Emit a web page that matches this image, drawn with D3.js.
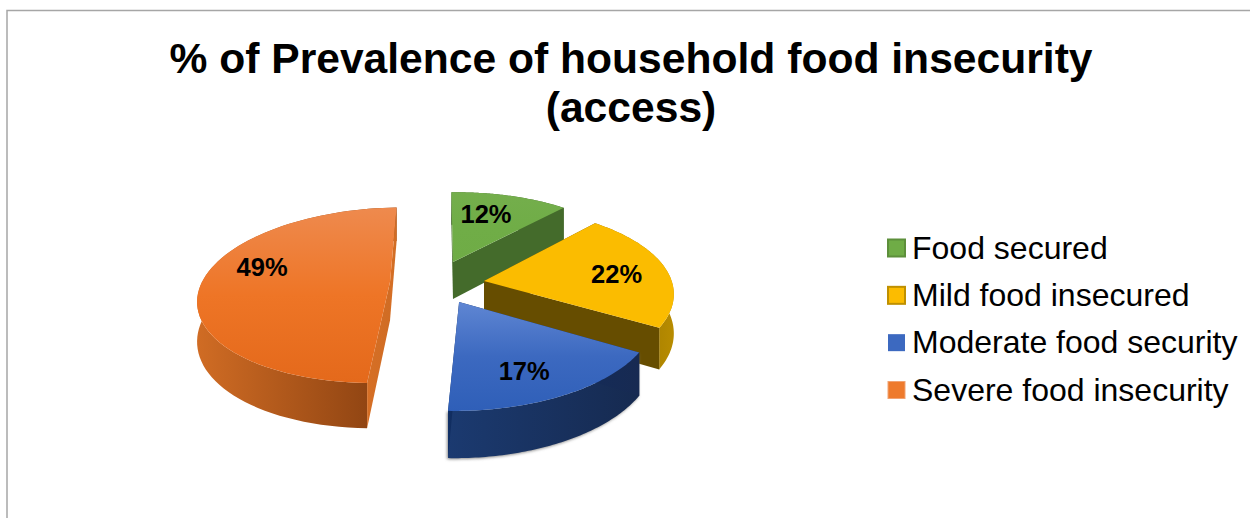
<!DOCTYPE html>
<html>
<head>
<meta charset="utf-8">
<script src="https://cdn.jsdelivr.net/npm/d3@7/dist/d3.min.js"></script>
<style>
  html, body { margin: 0; padding: 0; background: #fff; overflow: hidden; }
  svg { display: block; }
  text { font-family: "Liberation Sans", Arial, sans-serif; fill: #000; }
</style>
</head>
<body>
<svg id="chart" width="1250" height="518"></svg>
<script>
// Chart values
const categories = ["Food secured", "Mild food insecured", "Moderate food security", "Severe food insecurity"];
const shares = [12, 22, 17, 49];
const titleLines = ["% of Prevalence of household food insecurity", "(access)"];

// Slice colours: top-face gradient stops, flat cut-face stops, curved rim stops, legend swatch
const topStops = [
  ["#74ae4c", "#70ad47", "#6fac46"],
  ["#fbbc00", "#fbbc00", "#fbbc00"],
  ["#5f86d3", "#3c69c0", "#2f5fb8"],
  ["#ee8a4e", "#ee7526", "#e4691b"]
];
const wallStops = [
  ["#446b2b", "#446b2b"],
  ["#664d00", "#664d00"],
  ["#0f2f66", "#172a52"],
  ["#d66f25", "#d06c24"]
];
const rimStops = [
  ["#446b2b", "#3f6428"],
  ["#8a6800", "#b88c00"],
  ["#1b3a70", "#162a50"],
  ["#d06c24", "#873f10"]
];
const swatchFill = ["#6fac46", "#fcbc00", "#3c69c0", "#ee7a2c"];
const swatchEdge = ["#5d8f3b", "#bf9000", "#3c69c0", "#f1a373"];
const swatchEdgeWidth = [2, 2, 0, 1];

// Exploded displacement of each slice on the pie's ground plane, in radii
const explodeOffsets = [
  { u: -0.171, v: 0.242 },
  { u: 0, v: 0.012 },
  { u: -0.128, v: -0.225 },
  { u: -0.5, v: 0 }
];

// Label placement relative to each slice's apex: radius fraction and turn off the mid-angle (degrees)
const labelRadius = [0.68, 0.72, 0.74, 0.735];
const labelTurn = [-4, 2.6, 4, 14.4];

// Perspective camera for the tilted disc
const cam = { cx: 484, horizon: -286, span: 568, k: 0.151, radius: 188, thickness: 38.5 };
const firstSliceAngle = -2 * Math.PI / 180;

const depthScale = v => 1 / (1 + cam.k * v);
const project = (u, v, lift = 0) => {
  const w = depthScale(v);
  return [cam.cx + cam.radius * u * w, cam.horizon + cam.span * w + lift * w];
};

const svg = d3.select("#chart");
const defs = svg.append("defs");

function gradient(id, stops, vertical) {
  const g = defs.append("linearGradient").attr("id", id)
    .attr("x1", 0).attr("y1", 0)
    .attr("x2", vertical ? 0 : 1).attr("y2", vertical ? 1 : 0);
  stops.forEach((c, i) => g.append("stop").attr("offset", i / (stops.length - 1)).attr("stop-color", c));
}
shares.forEach((_, i) => {
  gradient(`top${i}`, topStops[i], true);
  gradient(`wall${i}`, wallStops[i], false);
  gradient(`rim${i}`, rimStops[i], false);
});
defs.append("filter").attr("id", "softShadow")
  .attr("x", "-10%").attr("y", "-10%").attr("width", "120%").attr("height", "120%")
  .append("feGaussianBlur").attr("stdDeviation", 1.6);

// Chart frame, open at the bottom and right
svg.append("path")
  .attr("d", d3.line()([[7, 518], [7, 10.5], [1250, 10.5]]))
  .attr("fill", "none").attr("stroke", "#a6a6a6").attr("stroke-width", 1.5);

// Title
svg.append("g").selectAll("text").data(titleLines).join("text")
  .attr("x", 631).attr("y", (d, i) => 73 + i * 49)
  .attr("text-anchor", "middle").attr("font-weight", "bold").attr("font-size", 42.6)
  .text(d => d);

const arcs = d3.pie().sort(null).value(d => d)
  .startAngle(firstSliceAngle).endAngle(firstSliceAngle + 2 * Math.PI)(shares);

const lineGen = d3.line();
const ground = (i, a, r = 1) => [explodeOffsets[i].u + r * Math.sin(a), explodeOffsets[i].v + r * Math.cos(a)];
const rimPoints = (i, a0, a1, lift) =>
  d3.range(0, 73).map(t => {
    const a = a0 + (a1 - a0) * t / 72;
    const [u, v] = ground(i, a);
    return project(u, v, lift);
  });

function drawSlice(g, arc, i) {
  const o = explodeOffsets[i];
  const topRim = rimPoints(i, arc.startAngle, arc.endAngle, 0);
  const lowRim = rimPoints(i, arc.startAngle, arc.endAngle, cam.thickness);
  const apexTop = project(o.u, o.v, 0);
  const apexLow = project(o.u, o.v, cam.thickness);

  // The moderate slice throws a faint shadow along its lower rim
  if (i === 2) {
    g.append("path")
      .attr("d", lineGen(lowRim.concat(topRim.slice().reverse())) + "Z")
      .attr("transform", "translate(-1,1)")
      .attr("fill", "#8a8a8a").attr("filter", "url(#softShadow)");
  }

  // Curved rim first, then the flat cut faces, then the top
  g.append("path")
    .attr("d", lineGen(topRim.concat(lowRim.slice().reverse())) + "Z")
    .attr("fill", `url(#rim${i})`);
  [0, 72].forEach(k => {
    g.append("path")
      .attr("d", lineGen([apexTop, topRim[k], lowRim[k], apexLow]) + "Z")
      .attr("fill", `url(#wall${i})`);
  });
  g.append("path")
    .attr("d", lineGen([apexTop].concat(topRim)) + "Z")
    .attr("fill", `url(#top${i})`);
}

// Painter's order, far slices first
const pie = svg.append("g");
[0, 1, 3, 2].forEach(i => drawSlice(pie.append("g"), arcs[i], i));

// Percentage labels
svg.append("g").selectAll("text").data(arcs).join("text")
  .attr("transform", (d, i) => {
    const mid = (d.startAngle + d.endAngle) / 2 + labelTurn[i] * Math.PI / 180;
    const [u, v] = ground(i, mid, labelRadius[i]);
    return `translate(${project(u, v)})`;
  })
  .attr("text-anchor", "middle").attr("dy", "0.35em")
  .attr("font-weight", "bold").attr("font-size", 25.5)
  .text(d => `${d.data}%`);

// Legend
const legendY = d3.scalePoint().domain(categories).range([248, 390]);
const legend = svg.append("g").selectAll("g").data(categories).join("g")
  .attr("transform", d => `translate(0,${legendY(d)})`);
legend.append("rect")
  .attr("x", 888).attr("y", -8.5).attr("width", 17).attr("height", 17)
  .attr("fill", (d, i) => swatchFill[i])
  .attr("stroke", (d, i) => swatchEdge[i]).attr("stroke-width", (d, i) => swatchEdgeWidth[i]);
legend.append("text")
  .attr("x", 912).attr("y", 10.5)
  .attr("font-size", 32)
  .text(d => d);
</script>
</body>
</html>
